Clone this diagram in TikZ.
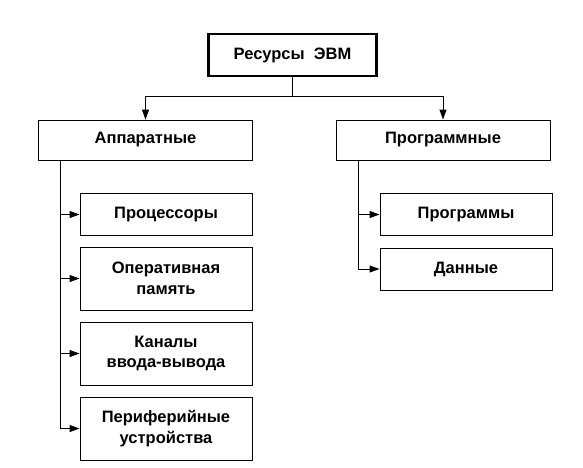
\documentclass[tikz,border=0pt]{standalone}
\usepackage{fontspec}
\setmainfont{Liberation Sans}
\usetikzlibrary{positioning,arrows.meta}

\begin{document}
\begin{tikzpicture}[x=1pt, y=-1pt,
  box/.style={draw, line width=0.9pt, align=center, inner sep=2pt,
              font=\bfseries\fontsize{16.5}{20.5}\selectfont},
  root/.style={box, line width=2.6pt, minimum width=168pt, minimum height=42pt},
  group/.style={box, minimum width=214pt, minimum height=40pt},
  item/.style={box, minimum width=172pt, minimum height=42pt},
  tall/.style={item, minimum height=63pt},
  arr/.style={-{Triangle[length=10pt, width=7pt]}, line width=0.9pt}]
\useasboundingbox (0,0) rectangle (583,467);
\node[root] (res) at (292.5,55) {Ресурсы\ \ ЭВМ};
\node[group] (hw) at (145.5,140) {Аппаратные};
\node[group] (sw) at (443,140) {Программные};
\node[item] (cpu) at (166,214.5) {Процессоры};
\node[tall] (ram) at (166,278.5) {Оперативная\\память};
\node[tall] (io) at (166,353.5) {Каналы\\ввода-вывода};
\node[tall] (dev) at (166,428.5) {Периферийные\\устройства};
\node[item] (prog) at (466,214.5) {Программы};
\node[item] (data) at (466,269) {Данные};
\coordinate (split) at (292.5,96);
\coordinate (hwbus) at (60,160);
\coordinate (swbus) at (358,160);
\draw[line width=0.9pt] (res) -- (split);
\draw[arr] (split) -| (hw);
\draw[arr] (split) -| (sw);
\draw[arr] (hwbus) |- (cpu);
\draw[arr] (hwbus) |- (ram);
\draw[arr] (hwbus) |- (io);
\draw[arr] (hwbus) |- (dev);
\draw[arr] (swbus) |- (prog);
\draw[arr] (swbus) |- (data);
\end{tikzpicture}
\end{document}
